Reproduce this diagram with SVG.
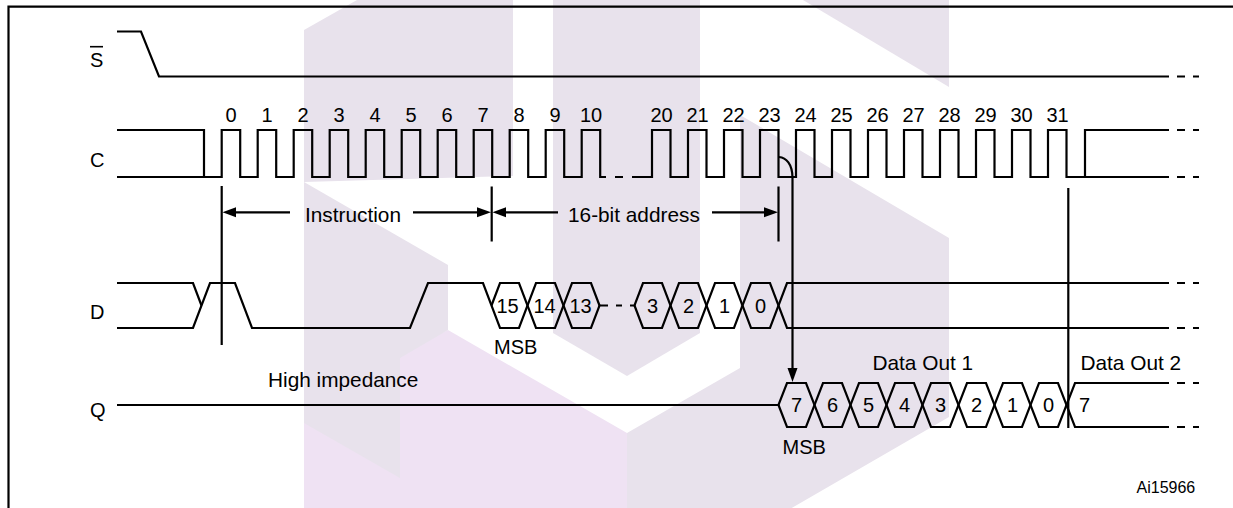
<svg xmlns="http://www.w3.org/2000/svg" width="1233" height="508" viewBox="0 0 1233 508">
<style>
.w{fill:none;stroke:#000;stroke-width:2.2;stroke-linejoin:miter;stroke-linecap:butt}
.t{font-family:"Liberation Sans",Arial,Helvetica,sans-serif;font-size:20px;fill:#000}
.l{font-size:20.8px}
.m{text-anchor:middle}
.g{fill:#e8e2ec}
.p{fill:#efe2f3}
.ah{fill:#000;stroke:none}
</style>
<rect width="1233" height="508" fill="#fff"/>
<g id="watermark">
<polygon class="g" points="304,30 357,0 513,0 513,176 304,182"/>
<polygon class="g" points="553,0 700,0 700,333 627,376 553,333"/>
<polygon class="g" points="803,0 949,0 949,87"/>
<polygon class="g" points="740,115 949,238 949,417 790,509 627,509 627,433 740,368"/>
<polygon class="p" points="304,400 448,330 627,433 627,509 304,509"/>
<polygon class="g" points="304,182 448,265 448,330 400,358 400,478 304,423"/>
</g>
<g id="frame">
<path class="w" d="M8.5,510 V6.7 H1240" stroke-width="2.6"/>
</g>
<g id="labels">
<text class="t" x="90" y="66.5">S</text>
<path d="M90,46.7 H103" stroke="#000" stroke-width="1.6"/>
<text class="t" x="90" y="167">C</text>
<text class="t" x="90" y="319">D</text>
<text class="t" x="90" y="417">Q</text>
</g>
<g id="signal-S">
<path class="w" d="M117,31.5 H141 L159,76.5 H1169 M1177,76.5 H1185 M1193,76.5 H1199"/>
</g>
<g id="signal-C">
<path class="w" d="M117,177 H221.7 V130 H240.2 V177 H257.7 V130 H276.2 V177 H293.7 V130 H312.2 V177 H329.7 V130 H348.2 V177 H365.7 V130 H384.2 V177 H401.7 V130 H420.2 V177 H437.7 V130 H456.2 V177 H473.7 V130 H492.2 V177 H509.7 V130 H528.2 V177 H545.7 V130 H564.2 V177 H581.7 V130 H600.2 V177 H606 M615,177 H623 M632,177 H652 V130 H670.5 V177 H688 V130 H706.5 V177 H724 V130 H742.5 V177 H760 V130 H778.5 V177 H796 V130 H814.5 V177 H832 V130 H850.5 V177 H868 V130 H886.5 V177 H904 V130 H922.5 V177 H940 V130 H958.5 V177 H976 V130 H994.5 V177 H1012 V130 H1030.5 V177 H1048 V130 H1066.5 V177 H1169"/>
<path class="w" d="M117,130 H204 V177 M1085,177 V130 H1169 M1177,130 H1185 M1193,130 H1199 M1177,177 H1185 M1193,177 H1199"/>
<g class="t m">
<text x="231" y="122">0</text><text x="267" y="122">1</text><text x="303" y="122">2</text><text x="339" y="122">3</text><text x="375" y="122">4</text><text x="411" y="122">5</text><text x="447" y="122">6</text><text x="483" y="122">7</text><text x="519" y="122">8</text><text x="555" y="122">9</text><text x="591" y="122">10</text>
<text x="661.5" y="122">20</text><text x="697.5" y="122">21</text><text x="733.5" y="122">22</text><text x="769.5" y="122">23</text><text x="805.5" y="122">24</text><text x="841.5" y="122">25</text><text x="877.5" y="122">26</text><text x="913.5" y="122">27</text><text x="949.5" y="122">28</text><text x="985.5" y="122">29</text><text x="1021.5" y="122">30</text><text x="1057.5" y="122">31</text>
</g>
</g>
<g id="signal-D">
<path class="w" d="M117,283 H193 L201.5,305.5"/>
<path class="w" d="M117,328 H193 L210,283 H235 L252,328 H410 L428,283 H483 L500,328 H519 L536,283 H555 L572,328 H591 L599.5,305.5 H608"/>
<path class="w" d="M491.5,305.5 L500,283 H519 L536,328 H555 L572,283 H591 L599.5,305.5"/>
<path class="w" d="M616,305.5 H622 M630,305.5 H634.5 L643,283 H662 L679,328 H698 L715,283 H734 L751,328 H770 L787,283 H1169"/>
<path class="w" d="M634.5,305.5 L643,328 H662 L679,283 H698 L715,328 H734 L751,283 H770 L787,328 H1169"/>
<path class="w" d="M1177,283 H1185 M1193,283 H1199 M1177,328 H1185 M1193,328 H1199"/>
<g class="t m">
<text x="507.5" y="313">15</text><text x="544.5" y="313">14</text><text x="580.5" y="313">13</text>
<text x="652.5" y="313">3</text><text x="688.5" y="313">2</text><text x="724.5" y="313">1</text><text x="760.5" y="313">0</text>
</g>
<text class="t" x="494" y="354">MSB</text>
</g>
<g id="signal-Q">
<path class="w" d="M117,405 H778.5 L787,383 H806 L823,427 H842 L859,383 H878 L895,427 H914 L931,383 H950 L967,427 H986 L1003,383 H1022 L1039,427 H1058 L1075,383 H1169"/>
<path class="w" d="M778.5,405 L787,427 H806 L823,383 H842 L859,427 H878 L895,383 H914 L931,427 H950 L967,383 H986 L1003,427 H1022 L1039,383 H1058 L1075,427 H1169"/>
<path class="w" d="M1177,383 H1185 M1193,383 H1199 M1177,427 H1185 M1193,427 H1199"/>
<g class="t m">
<text x="796.5" y="412">7</text><text x="832.5" y="412">6</text><text x="868.5" y="412">5</text><text x="904.5" y="412">4</text><text x="940.5" y="412">3</text><text x="976.5" y="412">2</text><text x="1012.5" y="412">1</text><text x="1048.5" y="412">0</text><text x="1084.5" y="412">7</text>
</g>
<text class="t l" x="268" y="387">High impedance</text>
<text class="t l" x="872.5" y="369.5">Data Out 1</text>
<text class="t l" x="1080.5" y="369.5">Data Out 2</text>
<text class="t" x="782.5" y="454">MSB</text>
</g>
<g id="connectors">
<path class="w" d="M221.7,186 V345 M491.7,186.5 V241.5 M778.5,186.5 V241.5 M1068.3,188 V428"/>
<path class="w" d="M235,212.3 H290 M413,212.3 H477 M506,212.3 H558 M712,212.3 H764"/>
<polygon class="ah" points="222.5,212.3 236,207.3 236,217.3"/>
<polygon class="ah" points="491,212.3 477,207.3 477,217.3"/>
<polygon class="ah" points="492.5,212.3 506,207.3 506,217.3"/>
<polygon class="ah" points="778,212.3 764,207.3 764,217.3"/>
<path class="w" d="M779,157 C786,157.5 792.5,164 792.5,178 V369"/>
<polygon class="ah" points="787.5,368 797.5,368 792.5,382"/>
<text class="t l" x="305" y="221.5">Instruction</text>
<text class="t l" x="568" y="221.5">16-bit address</text>
</g>
<text class="t" x="1136.5" y="492.5" style="font-size:16px">Ai15966</text>
</svg>
